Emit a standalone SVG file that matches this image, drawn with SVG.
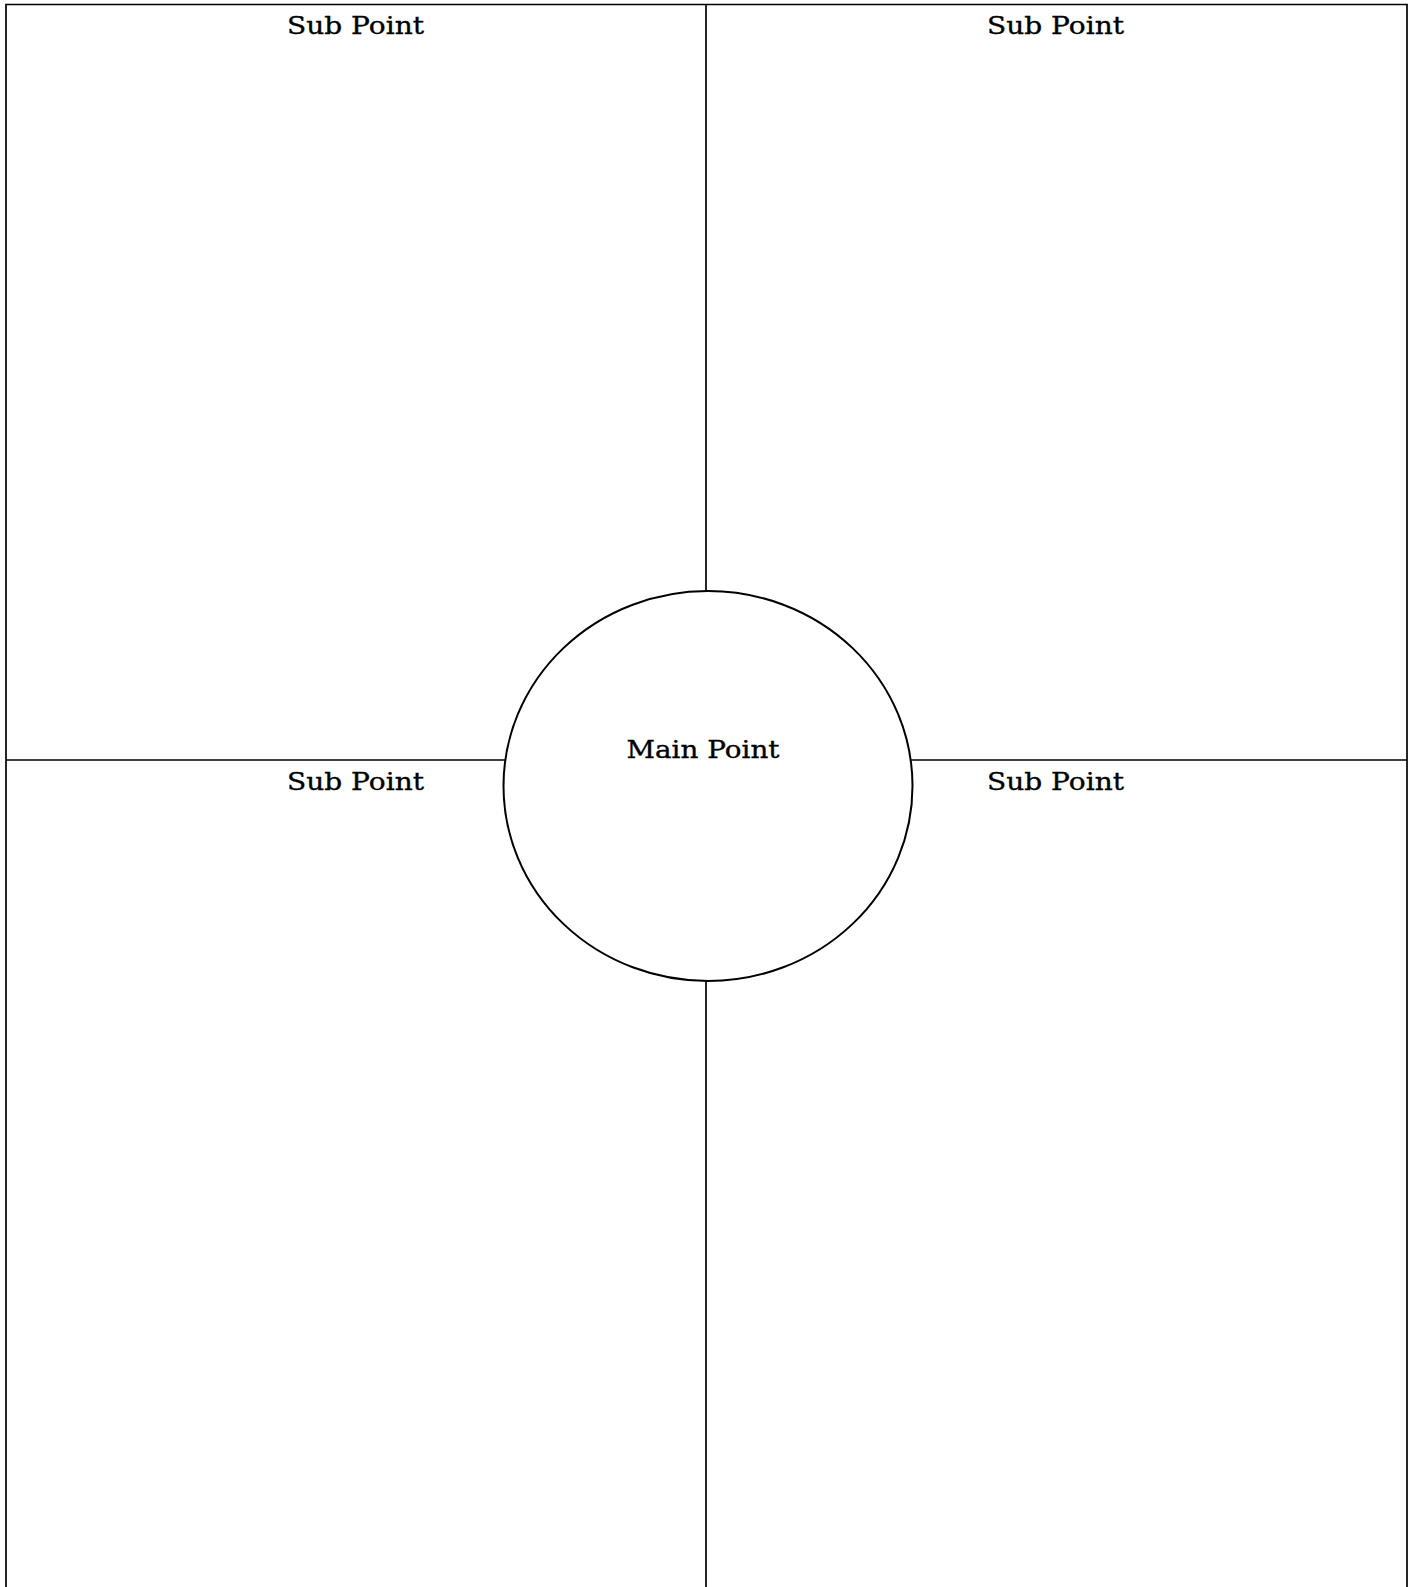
<svg xmlns="http://www.w3.org/2000/svg" width="1421" height="1587" viewBox="0 0 1421 1587">
<style>
.ln{stroke:#000;stroke-width:1.7;fill:none}
.lbl{font-family:"DejaVu Serif","Liberation Serif",serif;font-size:25px;fill:#000;stroke:#000;stroke-width:0.35;text-anchor:middle}
</style>
<rect width="1421" height="1587" fill="#fff"/>
<g id="connectors">
<path class="ln" d="M6,1587 V4.5 H1407 V1587"/>
<line class="ln" x1="706" y1="4.5" x2="706" y2="591"/>
<line class="ln" x1="706" y1="981" x2="706" y2="1587"/>
<line class="ln" x1="6" y1="760" x2="505" y2="760"/>
<line class="ln" x1="911" y1="760" x2="1407" y2="760"/>
</g>
<g id="main">
<ellipse cx="708" cy="786" rx="204.5" ry="195" fill="#fff" stroke="#000" stroke-width="2"/>
<text class="lbl" x="703" y="758" textLength="153" lengthAdjust="spacingAndGlyphs">Main Point</text>
</g>
<g id="sub1"><text class="lbl" x="355.5" y="34" textLength="137" lengthAdjust="spacingAndGlyphs">Sub Point</text></g>
<g id="sub2"><text class="lbl" x="1055.5" y="34" textLength="137" lengthAdjust="spacingAndGlyphs">Sub Point</text></g>
<g id="sub3"><text class="lbl" x="355.5" y="790" textLength="137" lengthAdjust="spacingAndGlyphs">Sub Point</text></g>
<g id="sub4"><text class="lbl" x="1055.5" y="790" textLength="137" lengthAdjust="spacingAndGlyphs">Sub Point</text></g>
</svg>
